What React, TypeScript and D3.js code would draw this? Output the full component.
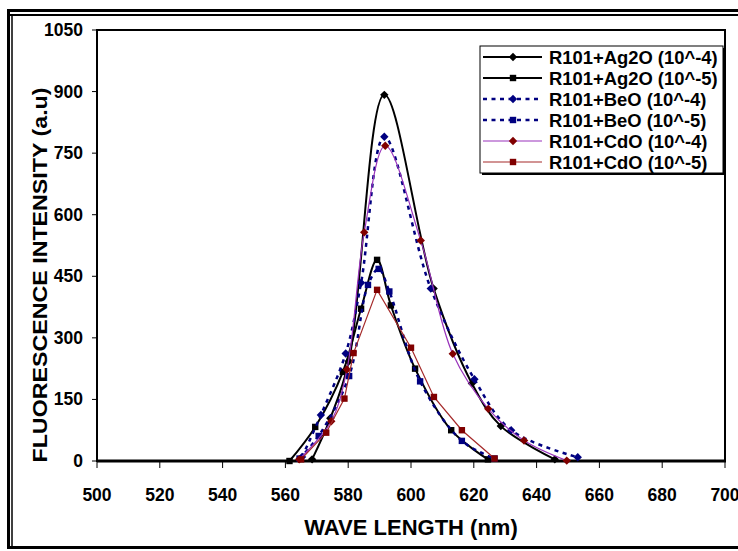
import React from 'react';
import * as d3 from 'd3';

// wavelength (nm) / intensity (a.u)
const ag2o4Wave = [568.5, 574.3, 580.2, 591.5, 607.2, 619.4, 628.6, 645.8];
const ag2o4Int = [4, 104, 243, 892, 420, 189, 85, 4];

const ag2o5Wave = [561.3, 569.5, 578.3, 584.1, 589.2, 593.6, 601.3, 612.8, 624.5];
const ag2o5Int = [0, 83, 217, 371, 490, 379, 225, 75, 4];

const beo4Wave = [565.3, 571.3, 579.2, 584.1, 591.5, 606.3, 620.2, 631.9, 653.1];
const beo4Int = [10, 112, 262, 434, 790, 420, 199, 75, 9];

const beo5Wave = [564.5, 570.6, 580.3, 586.3, 589.7, 593.1, 602.9, 616.2, 626.6];
const beo5Int = [6, 61, 207, 429, 468, 413, 194, 49, 6];

const cdo4Wave = [564.4, 574.6, 579.6, 585.1, 591.8, 603.1, 613.3, 624.6, 636.0, 649.6];
const cdo4Int = [4, 97, 223, 557, 768, 537, 261, 127, 50, 1];

const cdo5Wave = [565.0, 573.0, 578.8, 581.7, 589.2, 600.0, 607.3, 616.2, 626.6];
const cdo5Int = [4, 69, 152, 263, 417, 276, 156, 75, 6];

const xTicks = [500, 520, 540, 560, 580, 600, 620, 640, 660, 680, 700];
const yTicks = [0, 150, 300, 450, 600, 750, 900, 1050];

type Series = {
  name: string;
  wave: number[];
  inten: number[];
  line: string;
  marker: string;
  shape: 'diamond' | 'square';
  width: number;
  dash?: string;
  smooth: boolean;
};

const series: Series[] = [
  { name: 'R101+Ag2O (10^-4)', wave: ag2o4Wave, inten: ag2o4Int, line: '#000000', marker: '#000000', shape: 'diamond', width: 2, smooth: true },
  { name: 'R101+Ag2O (10^-5)', wave: ag2o5Wave, inten: ag2o5Int, line: '#000000', marker: '#000000', shape: 'square', width: 2, smooth: true },
  { name: 'R101+BeO (10^-4)', wave: beo4Wave, inten: beo4Int, line: '#000080', marker: '#000080', shape: 'diamond', width: 2.5, dash: '4,4.5', smooth: true },
  { name: 'R101+BeO (10^-5)', wave: beo5Wave, inten: beo5Int, line: '#000080', marker: '#000080', shape: 'square', width: 2.5, dash: '4,4.5', smooth: true },
  { name: 'R101+CdO (10^-4)', wave: cdo4Wave, inten: cdo4Int, line: '#9933BB', marker: '#800000', shape: 'diamond', width: 1.2, smooth: true },
  { name: 'R101+CdO (10^-5)', wave: cdo5Wave, inten: cdo5Int, line: '#A52A2A', marker: '#800000', shape: 'square', width: 1.2, smooth: false },
];

const FONT = '"Liberation Sans", Arial, sans-serif';

const left = 97, right = 725, top = 30, bottom = 461;

const Marker = ({ shape, cx, cy, fill }: { shape: string; cx: number; cy: number; fill: string }) => {
  if (shape === 'square') {
    return <rect x={cx - 3.2} y={cy - 3.2} width={6.4} height={6.4} fill={fill} />;
  }
  const r = 4.2;
  return <path d={`M${cx},${cy - r}L${cx + r},${cy}L${cx},${cy + r}L${cx - r},${cy}Z`} fill={fill} />;
};

export default function App() {
  const x = d3.scaleLinear().domain([500, 700]).range([left, right]);
  const y = d3.scaleLinear().domain([0, 1050]).range([bottom, top]);

  const lineGen = (smooth: boolean) =>
    d3.line<[number, number]>()
      .x(d => x(d[0]))
      .y(d => y(d[1]))
      .curve(smooth ? d3.curveCatmullRom.alpha(0.5) : d3.curveLinear);

  const legX = 480, legY = 46, legW = 243, legH = 127, rowH = 21;

  return (
    <svg width={738} height={551} style={{ position: 'absolute', left: 0, top: 0, background: '#fff' }} fontFamily={FONT}>
      {/* outer frame */}
      <rect x={8.5} y={10.5} width={740} height={537} fill="none" stroke="#000" strokeWidth={3} />
      <line x1={10} x2={738} y1={15} y2={15} stroke="#000" strokeWidth={2} />
      <line x1={12} x2={12} y1={15} y2={546} stroke="#000" strokeWidth={1.5} />

      {/* plot area */}
      <rect x={left} y={top} width={right - left} height={bottom - top} fill="#fff" stroke="#000" strokeWidth={2} />
      <line x1={left} x2={right + 1} y1={bottom} y2={bottom} stroke="#000" strokeWidth={3} />

      {/* y axis */}
      {yTicks.map(t => (
        <g key={'y' + t}>
          <line x1={left - 5} x2={left} y1={y(t)} y2={y(t)} stroke="#000" strokeWidth={1} />
          <text x={83} y={y(t) + 6} textAnchor="end" fontSize={17.5} fontWeight="bold">{t}</text>
        </g>
      ))}
      {/* x axis */}
      {xTicks.map(t => (
        <g key={'x' + t}>
          <line x1={x(t)} x2={x(t)} y1={bottom} y2={bottom + 7} stroke="#000" strokeWidth={1} />
          <text x={x(t)} y={501} textAnchor="middle" fontSize={17.5} fontWeight="bold">{t}</text>
        </g>
      ))}

      <text x={x(600)} y={535} textAnchor="middle" fontSize={22} fontWeight="bold">WAVE LENGTH (nm)</text>
      <text transform="translate(47,275) rotate(-90)" textAnchor="middle" fontSize={21} fontWeight="bold"
        textLength={375} lengthAdjust="spacingAndGlyphs">FLUORESCENCE INTENSITY (a.u)</text>

      {/* series */}
      {series.map(s => {
        const pts = s.wave.map((w, i) => [w, s.inten[i]] as [number, number]);
        return (
          <g key={s.name}>
            <path d={lineGen(s.smooth)(pts) || ''} fill="none" stroke={s.line} strokeWidth={s.width}
              strokeDasharray={s.dash} />
            {pts.map((p, i) => (
              <Marker key={i} shape={s.shape} cx={x(p[0])} cy={y(p[1])} fill={s.marker} />
            ))}
          </g>
        );
      })}

      {/* legend */}
      <rect x={legX + 2} y={legY + 2} width={legW} height={legH} fill="#000" />
      <rect x={legX} y={legY} width={legW} height={legH} fill="#fff" stroke="#000" strokeWidth={1} />
      {series.map((s, i) => {
        const cy = legY + 11 + i * rowH;
        return (
          <g key={'leg' + i}>
            <line x1={legX + 3} x2={legX + 62} y1={cy} y2={cy} stroke={s.line} strokeWidth={s.width}
              strokeDasharray={s.dash} />
            <Marker shape={s.shape} cx={legX + 33} cy={cy} fill={s.marker} />
            <text x={legX + 69} y={cy + 6.5} fontSize={18.4} fontWeight="bold">{s.name}</text>
          </g>
        );
      })}
    </svg>
  );
}
